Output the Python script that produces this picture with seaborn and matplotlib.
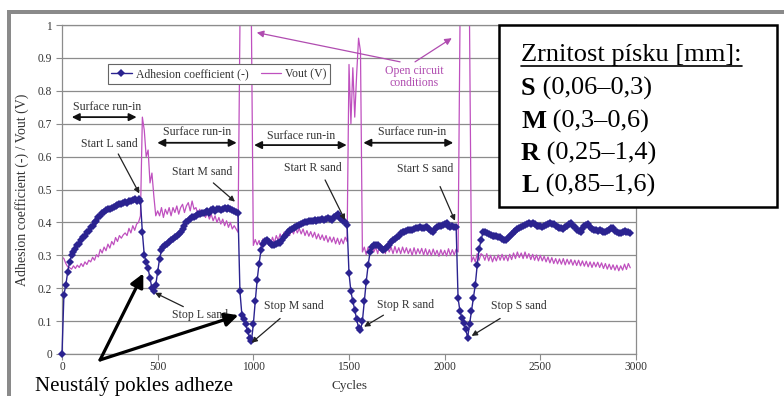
import numpy as np
import pandas as pd
import matplotlib
matplotlib.use("Agg")
import matplotlib.pyplot as plt
import seaborn as sns
from matplotlib.patches import Rectangle
from matplotlib.lines import Line2D

# ---------------- data (one value every 10 cycles) -------------
cycle_step = 10
adhesion = [
    0.0, 0.18, 0.21, 0.25, 0.28, 0.30, 0.31, 0.32, 0.33, 0.335,
    0.345, 0.355, 0.36, 0.37, 0.375, 0.385, 0.39, 0.40, 0.405, 0.415,
    0.42, 0.43, 0.432, 0.438, 0.44, 0.44, 0.445, 0.448, 0.45, 0.452,
    0.455, 0.455, 0.46, 0.462, 0.46, 0.465, 0.466, 0.468, 0.47, 0.466,
    0.47, 0.465, 0.37, 0.30, 0.28, 0.26, 0.23, 0.20, 0.19, 0.21,
    0.25, 0.29, 0.315, 0.325, 0.33, 0.335, 0.34, 0.345, 0.35, 0.355,
    0.36, 0.365, 0.37, 0.38, 0.39, 0.40, 0.405, 0.41, 0.415, 0.415,
    0.42, 0.425, 0.425, 0.43, 0.428, 0.432, 0.435, 0.43, 0.438, 0.44,
    0.436, 0.44, 0.442, 0.438, 0.44, 0.444, 0.44, 0.445, 0.44, 0.438,
    0.436, 0.432, 0.43, 0.19, 0.12, 0.105, 0.09, 0.07, 0.05, 0.04,
    0.09, 0.16, 0.225, 0.275, 0.315, 0.335, 0.342, 0.346, 0.34, 0.335,
    0.33, 0.332, 0.335, 0.338, 0.336, 0.345, 0.355, 0.362, 0.37, 0.376,
    0.38, 0.384, 0.386, 0.39, 0.392, 0.395, 0.398, 0.40, 0.402, 0.404,
    0.405, 0.403, 0.407, 0.405, 0.408, 0.407, 0.41, 0.406, 0.41, 0.412,
    0.41, 0.408, 0.415, 0.42, 0.427, 0.415, 0.41, 0.405, 0.40, 0.393,
    0.245, 0.19, 0.16, 0.135, 0.105, 0.08, 0.073, 0.10, 0.16, 0.22,
    0.27, 0.31, 0.326, 0.332, 0.33, 0.33, 0.325, 0.32, 0.316, 0.32,
    0.325, 0.33, 0.34, 0.345, 0.35, 0.355, 0.36, 0.367, 0.37, 0.372,
    0.374, 0.376, 0.377, 0.378, 0.38, 0.382, 0.383, 0.385, 0.382, 0.384,
    0.386, 0.385, 0.38, 0.375, 0.372, 0.38, 0.385, 0.388, 0.39, 0.392,
    0.395, 0.397, 0.39, 0.386, 0.388, 0.385, 0.385, 0.17, 0.13, 0.11,
    0.095, 0.075, 0.05, 0.09, 0.13, 0.17, 0.21, 0.27, 0.32, 0.345,
    0.37, 0.372, 0.368, 0.365, 0.362, 0.36, 0.36, 0.358, 0.356, 0.355,
    0.35, 0.346, 0.348, 0.352, 0.36, 0.366, 0.37, 0.375, 0.38, 0.384,
    0.387, 0.39, 0.392, 0.395, 0.397, 0.396, 0.398, 0.394, 0.39, 0.388,
    0.39, 0.387, 0.39, 0.393, 0.395, 0.398, 0.396, 0.394, 0.39, 0.385,
    0.382, 0.383, 0.38, 0.385, 0.39, 0.395, 0.397, 0.39, 0.385, 0.378,
    0.375, 0.372, 0.38, 0.388, 0.393, 0.395, 0.387, 0.38, 0.378, 0.376,
    0.375, 0.377, 0.374, 0.372, 0.37, 0.373, 0.378, 0.382, 0.383, 0.375,
    0.37, 0.367, 0.368, 0.372, 0.374, 0.372, 0.37, 0.368,
]
vout = [
    0.295, 0.29, 0.275, 0.265, 0.262, 0.258, 0.268, 0.26, 0.27, 0.263,
    0.275, 0.266, 0.28, 0.272, 0.285, 0.28, 0.294, 0.285, 0.302, 0.295,
    0.318, 0.307, 0.325, 0.314, 0.334, 0.322, 0.342, 0.332, 0.354, 0.342,
    0.36, 0.352, 0.362, 0.368, 0.36, 0.382, 0.368, 0.39, 0.376, 0.395,
    0.40, 0.42, 0.72, 0.68, 0.60, 0.62, 0.52, 0.55, 0.48, 0.42,
    0.435, 0.42, 0.445, 0.415, 0.44, 0.425, 0.445, 0.42, 0.445, 0.43,
    0.45, 0.425, 0.445, 0.455, 0.43, 0.45, 0.46, 0.435, 0.465, 0.44,
    0.445, 0.425, 0.44, 0.42, 0.435, 0.415, 0.43, 0.41, 0.425, 0.405,
    0.42, 0.4, 0.415, 0.395, 0.41, 0.39, 0.405, 0.385, 0.4, 0.38,
    0.39, 0.38, 0.37, 1.0, 1.0, 1.0, 1.0, 1.0, 1.0, 1.0,
    0.33, 0.348, 0.332, 0.345, 0.328, 0.35, 0.332, 0.345, 0.35, 0.332,
    0.355, 0.338, 0.36, 0.345, 0.365, 0.35, 0.37, 0.355, 0.375, 0.36,
    0.38, 0.365, 0.385, 0.368, 0.382, 0.365, 0.38, 0.36, 0.375, 0.358,
    0.372, 0.355, 0.37, 0.35, 0.365, 0.348, 0.362, 0.345, 0.36, 0.34,
    0.356, 0.34, 0.355, 0.335, 0.352, 0.333, 0.35, 0.335, 0.355, 0.342,
    0.88, 0.70, 0.87, 0.72, 0.85, 0.96, 0.92, 0.31, 0.325, 0.302,
    0.325, 0.306, 0.33, 0.31, 0.325, 0.305, 0.33, 0.31, 0.325, 0.305,
    0.33, 0.31, 0.325, 0.305, 0.327, 0.307, 0.323, 0.305, 0.325, 0.307,
    0.323, 0.305, 0.32, 0.3, 0.323, 0.303, 0.32, 0.305, 0.321, 0.301,
    0.32, 0.3, 0.317, 0.299, 0.319, 0.301, 0.315, 0.297, 0.317, 0.3,
    0.315, 0.298, 0.32, 0.3, 0.317, 0.301, 0.319, 0.31, 1.0, 1.0,
    1.0, 1.0, 1.0, 1.0, 0.28, 0.295, 0.28, 0.305, 0.285, 0.305,
    0.3, 0.285, 0.305, 0.283, 0.3, 0.28, 0.297, 0.283, 0.301, 0.285,
    0.303, 0.285, 0.3, 0.283, 0.303, 0.287, 0.307, 0.29, 0.31, 0.293,
    0.307, 0.29, 0.31, 0.291, 0.305, 0.287, 0.303, 0.285, 0.301, 0.283,
    0.3, 0.283, 0.297, 0.28, 0.295, 0.277, 0.293, 0.275, 0.29, 0.274,
    0.289, 0.273, 0.29, 0.271, 0.288, 0.273, 0.287, 0.27, 0.285, 0.269,
    0.285, 0.268, 0.283, 0.267, 0.282, 0.265, 0.28, 0.263, 0.279, 0.265,
    0.279, 0.263, 0.277, 0.26, 0.275, 0.258, 0.273, 0.257, 0.271, 0.255,
    0.27, 0.253, 0.268, 0.255, 0.273, 0.257, 0.275, 0.262,
]
x_ticks = [0, 500, 1000, 1500, 2000, 2500, 3000]
y_ticks = [0, 0.1, 0.2, 0.3, 0.4, 0.5, 0.6, 0.7, 0.8, 0.9, 1.0]
y_tick_labels = ["0", "0.1", "0.2", "0.3", "0.4", "0.5", "0.6", "0.7", "0.8", "0.9", "1"]
series_labels = ["Adhesion coefficient (-)", "Vout (V)"]
box_title = "Zrnitost písku [mm]:"
sand_letters = ["S", "M", "R", "L"]
sand_ranges = [" (0,06–0,3)", " (0,3–0,6)", " (0,25–1,4)", " (0,85–1,6)"]

n = min(len(adhesion), len(vout))
cycles = np.arange(n) * cycle_step
df = pd.DataFrame({"Cycles": cycles, "adhesion": adhesion[:n], "vout": vout[:n]})

# ---------------- style ----------------
sns.set_theme(style="white")
plt.rcParams["font.family"] = ["Liberation Serif", "DejaVu Serif"]

ADH = "#2b2390"
VOUT = "#bf50bf"
GRID = "#8c8c8c"
TXT = "#333333"

fig = plt.figure(figsize=(7.84, 3.96), dpi=100)
ax = fig.add_axes([62 / 784, 1 - 354 / 396, (636 - 62) / 784, (354 - 25) / 396])

sns.lineplot(data=df, x="Cycles", y="vout", ax=ax, color=VOUT, lw=0.9,
             estimator=None, zorder=2)
sns.lineplot(data=df, x="Cycles", y="adhesion", ax=ax, color=ADH, lw=1.0,
             marker="D", markersize=3.6, markeredgewidth=0, estimator=None,
             zorder=3, clip_on=False)

ax.set_xlim(0, 3000)
ax.set_ylim(0, 1)
ax.set_xticks(x_ticks)
ax.set_yticks(y_ticks)
ax.set_yticklabels(y_tick_labels)
ax.yaxis.grid(True, color=GRID, lw=0.9)
ax.xaxis.grid(False)
ax.set_axisbelow(True)
for s in ax.spines.values():
    s.set_color(GRID)
    s.set_linewidth(0.9)
ax.tick_params(axis="both", which="major", direction="out", length=4,
               width=0.8, color=GRID, labelsize=8.3, labelcolor=TXT, pad=3,
               left=True, bottom=True)
ax.tick_params(axis="x", pad=1.2)
ax.set_xlabel("Cycles", fontsize=9.5, color=TXT)
ax.set_ylabel("Adhesion coefficient (-) / Vout (V)", fontsize=10, color=TXT)
ax.xaxis.set_label_coords(0.5, -0.08)
ax.yaxis.set_label_coords(-0.058, 0.5)

# legend
handles = [Line2D([], [], color=ADH, lw=1.0, marker="D", markersize=3.6, markeredgewidth=0),
           Line2D([], [], color=VOUT, lw=0.9)]
leg = ax.legend(handles, series_labels, ncol=2, loc="upper left",
                bbox_to_anchor=(0.08, 0.88), frameon=True, fancybox=False,
                edgecolor="#666666", framealpha=1, fontsize=8.5,
                borderpad=0.3, handlelength=1.7, handletextpad=0.4,
                columnspacing=1.0, borderaxespad=0)
leg.get_frame().set_linewidth(0.8)
for t in leg.get_texts():
    t.set_color(TXT)

# surface run-in arrows
sri = [((235, 0.752), 51, 390, 0.72), ((708, 0.676), 498, 913, 0.642),
       ((1252, 0.662), 1004, 1488, 0.635), ((1832, 0.676), 1575, 2045, 0.642)]
for (tx, ty), x0, x1, ya in sri:
    ax.text(tx, ty, "Surface run-in", fontsize=8.6, ha="center", va="center",
            color=TXT, zorder=5)
    ax.annotate("", xy=(x1, ya), xytext=(x0, ya),
                arrowprops=dict(arrowstyle="<|-|>", color="#111111", lw=1.3,
                                mutation_scale=11, shrinkA=0, shrinkB=0), zorder=5)

# start / stop sand labels
notes = [
    ("Start L sand", (246, 0.638), (294, 0.608), (404, 0.488)),
    ("Start M sand", (734, 0.554), (791, 0.52), (904, 0.463)),
    ("Start R sand", (1309, 0.565), (1375, 0.529), (1479, 0.407)),
    ("Start S sand", (1897, 0.561), (1976, 0.509), (2054, 0.405)),
    ("Stop L sand", (721, 0.118), (634, 0.144), (486, 0.186)),
    ("Stop M sand", (1213, 0.146), (1140, 0.108), (991, 0.034)),
    ("Stop R sand", (1797, 0.149), (1680, 0.118), (1579, 0.083)),
    ("Stop S sand", (2389, 0.146), (2290, 0.108), (2141, 0.055)),
]
for label, tpos, tail, head in notes:
    ax.text(tpos[0], tpos[1], label, fontsize=8.5, ha="center", va="center",
            color=TXT, zorder=5)
    ax.annotate("", xy=head, xytext=tail,
                arrowprops=dict(arrowstyle="-|>", color="#222222", lw=0.9,
                                mutation_scale=8, shrinkA=0, shrinkB=0), zorder=6)

# open circuit conditions
OC = "#b04cb0"
ax.text(1840, 0.842, "Open circuit\nconditions", fontsize=8.5, ha="center",
        va="center", color=OC, linespacing=0.95, zorder=5)
ax.annotate("", xy=(1018, 0.977), xytext=(1767, 0.888),
            arrowprops=dict(arrowstyle="-|>", color=OC, lw=0.9,
                            mutation_scale=10, shrinkA=0, shrinkB=0), zorder=6)
ax.annotate("", xy=(2037, 0.96), xytext=(1845, 0.888),
            arrowprops=dict(arrowstyle="-|>", color=OC, lw=0.9,
                            mutation_scale=10, shrinkA=0, shrinkB=0), zorder=6)

# thick arrows "Neustálý pokles adheze"
for head in [(425, 0.245), (922, 0.118)]:
    ax.annotate("", xy=head, xytext=(199, -0.018), annotation_clip=False,
                arrowprops=dict(arrowstyle="-|>", color="black", lw=2.3,
                                mutation_scale=20, shrinkA=0, shrinkB=0), zorder=7)
fig.text(35 / 784, 1 - 391 / 396, "Neustálý pokles adheze", fontsize=15,
         ha="left", va="baseline", color="black", zorder=12)

# text box with sand grain sizes
fig.add_artist(Rectangle((499 / 784, 1 - 207 / 396), 278 / 784, 182 / 396,
                         transform=fig.transFigure, facecolor="white",
                         edgecolor="black", lw=1.8, zorder=10))
fig.text(521 / 784, 1 - 61 / 396, box_title, fontsize=19, ha="left",
         va="baseline", color="black", zorder=11)
fig.add_artist(Line2D([521 / 784, 742 / 784], [1 - 65.5 / 396, 1 - 65.5 / 396],
                      transform=fig.transFigure, color="black", lw=1.2, zorder=11))
baselines = [100, 133, 165, 197]
for letter, rng, yb in zip(sand_letters, sand_ranges, baselines):
    tb = fig.text(521 / 784, 1 - yb / 396, letter, fontsize=19, fontweight="bold",
                  ha="left", va="bottom", color="black", zorder=11)
    fig.add_artist(plt.Annotation(rng, xy=(1, 0), xycoords=tb, ha="left",
                                  va="bottom", fontsize=19, color="black",
                                  zorder=11))

# outer gray frame of the picture
fig.add_artist(Rectangle((7 / 784, 0), 3.5 / 784, 1 - 10 / 396,
                         transform=fig.transFigure, facecolor="#8a8a8a",
                         edgecolor="none", zorder=12))
fig.add_artist(Rectangle((7 / 784, 1 - 13.5 / 396), 1, 3.5 / 396,
                         transform=fig.transFigure, facecolor="#8a8a8a",
                         edgecolor="none", zorder=12))

fig.savefig("out.png", dpi=100, facecolor="white")
